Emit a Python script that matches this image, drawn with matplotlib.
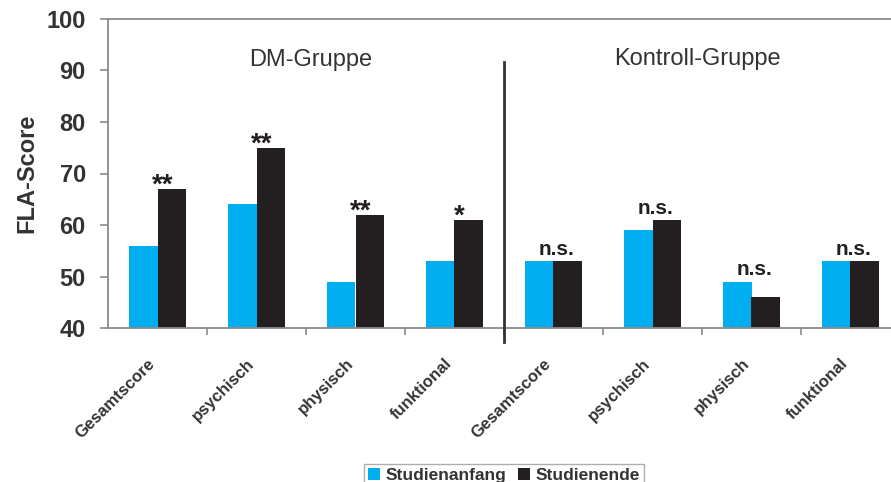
import matplotlib
matplotlib.use("Agg")
import matplotlib.pyplot as plt
import matplotlib.transforms as mtransforms
from matplotlib.patches import Patch
import numpy as np

plt.rcParams['font.family'] = ['Liberation Sans', 'DejaVu Sans']

# data
categories = ['Gesamtscore', 'psychisch', 'physisch', 'funktional',
              'Gesamtscore', 'psychisch', 'physisch', 'funktional']
studienanfang = [56, 64, 49, 53, 53, 59, 49, 53]
studienende = [67, 75, 62, 61, 53, 61, 46, 53]
signif = ['**', '**', '**', '*', 'n.s.', 'n.s.', 'n.s.', 'n.s.']
groups = ['DM-Gruppe', 'Kontroll-Gruppe']
series_names = ['Studienanfang', 'Studienende']

c_blue = '#00aeef'
c_black = '#231f20'
c_axis = '#8a8a8a'
c_text = '#333333'

fig = plt.figure(figsize=(8.91, 4.82), dpi=100)
# right side of the plot area is cut off in the reference
ax = fig.add_axes([108/891, 1-328/482, 792/891, 309/482])

x = np.arange(len(categories))
w = 0.29
ax.bar(x - w/2, studienanfang, w, color=c_blue, zorder=2)
ax.bar(x + w/2, studienende, w, color=c_black, zorder=2)

ax.set_xlim(-0.5, len(categories) - 0.5)
ax.set_ylim(40, 100)
ax.set_yticks(np.arange(40, 101, 10))

for s in ['left', 'bottom', 'top']:
  ax.spines[s].set_color(c_axis)
  ax.spines[s].set_linewidth(1.3)
ax.spines['right'].set_visible(False)

ax.tick_params(axis='y', length=6, width=1.2, color=c_axis, pad=10,
               labelsize=17, labelcolor=c_text)
for lab in ax.get_yticklabels():
  lab.set_fontweight('bold')

ax.set_xticks(x)
ax.set_xticklabels(categories, rotation=45, ha='right', rotation_mode='anchor',
                   fontsize=12, fontweight='bold', color=c_text)
ax.tick_params(axis='x', length=0, pad=20)
shift = mtransforms.ScaledTranslation(-10/100, 0, fig.dpi_scale_trans)
for lab in ax.get_xticklabels():
  lab.set_transform(lab.get_transform() + shift)
ax.set_xticks(np.arange(0.5, len(categories) - 0.5, 1), minor=True)
ax.tick_params(axis='x', which='minor', length=5, width=1.2, color=c_axis)

ax.set_ylabel('FLA-Score', fontsize=17, fontweight='bold', color=c_text, labelpad=6)

# significance marks
for i in range(len(categories)):
  top = max(studienanfang[i], studienende[i])
  if signif[i].startswith('*'):
    ax.text(x[i] + 0.05, top - 0.7, signif[i], ha='center', va='baseline',
            fontsize=20, fontweight='bold', color=c_black)
  else:
    ax.text(x[i] + 0.03, top + 1.2, signif[i], ha='center', va='baseline',
            fontsize=15, fontweight='bold', color=c_black)

# group divider and titles
ax.plot([3.5, 3.5], [37.3, 91.6], color=c_text, lw=2, clip_on=False, zorder=3)
ax.text(1.55, 92.0, groups[0], ha='center', va='center', fontsize=17, color=c_text)
ax.text(5.45, 92.3, groups[1], ha='center', va='center', fontsize=17, color=c_text)

handles = [Patch(facecolor=c_blue), Patch(facecolor=c_black)]
leg = fig.legend(handles, series_names, loc='upper center', ncol=2,
                 bbox_to_anchor=(504/891, 1-455/482), frameon=True, fancybox=False,
                 edgecolor='#999999', handlelength=0.7, handleheight=0.7,
                 handletextpad=0.3, columnspacing=0.7, borderpad=0.25,
                 prop={'size': 12.5, 'weight': 'bold'})
leg.get_frame().set_linewidth(1.0)
for t in leg.get_texts():
  t.set_color(c_text)

fig.savefig('out.png', dpi=100)
